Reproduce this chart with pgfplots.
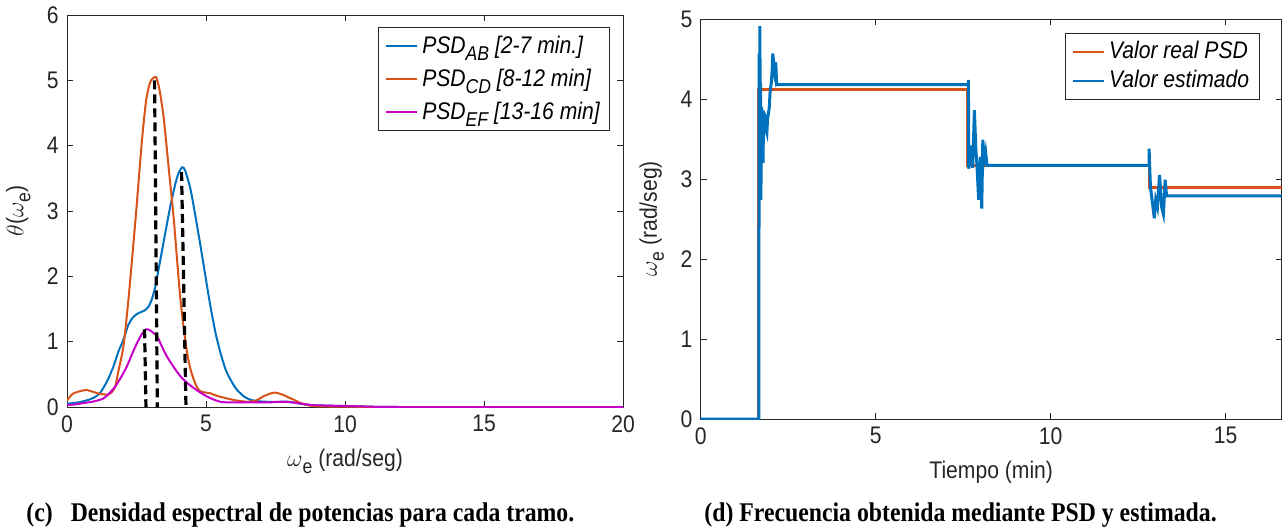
\documentclass[border=0pt]{standalone}
\usepackage{fontspec}
\setmainfont{Liberation Sans}[FakeStretch=0.88]
\newfontfamily\capfont{Liberation Serif}[FakeStretch=0.88]
\usepackage{pgfplots}
\pgfplotsset{compat=1.18}
\definecolor{mblue}{rgb}{0,0.447,0.741}
\definecolor{morange}{rgb}{0.85,0.325,0.098}
\definecolor{mmag}{rgb}{0.78,0,0.78}
\definecolor{axgray}{rgb}{0.15,0.15,0.15}
\newcommand{\sub}[1]{\raisebox{-0.55ex}{\fontsize{10}{10}\selectfont #1}}
\pgfplotsset{
  mystyle/.style={
    scale only axis,
    anchor=south west,
    axis line style={axgray, line width=0.5pt},
    every tick/.style={axgray, line width=0.5pt},
    major tick length=3pt,
    tick label style={font=\fontsize{12}{14}\selectfont, text=axgray},
    /pgf/number format/assume math mode=true,
    label style={font=\fontsize{12}{14}\selectfont, text=axgray},
    legend cell align=left,
    legend image code/.code={\draw[#1, line width=1.2pt] (0pt,0pt) -- (15.5pt,0pt);},
  }
}
\begin{document}
\fontsize{12}{14}\selectfont
\begin{tikzpicture}
\useasboundingbox (0,0) rectangle (642pt,-265pt);
% ---------------- left axis ----------------
\begin{axis}[mystyle,
  at={(33.5pt,-203.5pt)},
  width=278pt, height=196pt,
  xmin=0, xmax=20, ymin=0, ymax=6,
  xtick={0,5,10,15,20}, ytick={0,1,2,3,4,5,6},
  xlabel={$\omega$\sub{e} (rad/seg)},
  ylabel={$\theta$($\omega$\sub{e})},
  legend style={at={(rel axis cs:0.977,0.969)}, anchor=north east,
    draw=axgray, line width=0.5pt, font=\itshape\fontsize{12}{13}\selectfont,
    inner xsep=3pt, inner ysep=2pt, row sep=2pt},
]
\addplot[mblue, line width=1pt, smooth, tension=0.4] coordinates {
(0,0.05) (0.4,0.07) (0.7,0.10) (1.0,0.15) (1.2,0.22) (1.45,0.40) (1.67,0.62)
(1.85,0.85) (2.03,1.03) (2.2,1.25) (2.35,1.36) (2.5,1.42) (2.64,1.45) (2.8,1.48)
(2.94,1.54) (3.06,1.66) (3.18,1.85) (3.36,2.26) (3.55,2.70) (3.72,3.08) (3.9,3.42)
(4.02,3.59) (4.15,3.67) (4.25,3.62) (4.44,3.34) (4.62,2.92) (4.8,2.47) (5.0,1.95)
(5.16,1.54) (5.35,1.12) (5.52,0.83) (5.7,0.58) (5.88,0.42) (6.1,0.27) (6.37,0.16)
(6.6,0.11) (6.85,0.09) (7.2,0.08) (7.6,0.08) (8.0,0.08) (8.4,0.05) (8.8,0.03)
(9.5,0.02) (10.5,0.01) (12,0) (20,0)};
\addlegendentry{PSD\sub{AB} [2-7 min.]}
\addplot[morange, line width=1pt, smooth, tension=0.4] coordinates {
(0,0.10) (0.2,0.20) (0.45,0.24) (0.71,0.26) (0.95,0.23) (1.2,0.20) (1.45,0.19)
(1.6,0.22) (1.73,0.31) (1.85,0.55) (2.03,0.93) (2.2,1.60) (2.34,2.26) (2.5,3.05)
(2.7,4.10) (2.85,4.70) (3.0,4.98) (3.2,5.05) (3.33,4.85) (3.48,4.42) (3.66,3.65)
(3.84,2.88) (3.96,2.25) (4.08,1.65) (4.2,1.20) (4.32,0.83) (4.44,0.58) (4.56,0.42)
(4.68,0.30) (4.8,0.24) (5.0,0.22) (5.16,0.21) (5.4,0.17) (5.77,0.13) (6.1,0.10)
(6.49,0.08) (6.8,0.10) (7.1,0.17) (7.45,0.22) (7.75,0.19) (8.0,0.14) (8.17,0.11)
(8.4,0.06) (8.65,0.03) (9.0,0.01) (10.5,0.005) (11,0) (20,0)};
\addlegendentry{PSD\sub{CD} [8-12 min]}
\addplot[mmag, line width=1pt, smooth, tension=0.4] coordinates {
(0,0.03) (0.3,0.04) (0.59,0.06) (0.9,0.08) (1.1,0.10) (1.31,0.13) (1.5,0.20)
(1.73,0.31) (1.95,0.46) (2.15,0.62) (2.35,0.82) (2.52,0.98) (2.7,1.12) (2.85,1.19)
(3.0,1.17) (3.24,1.08) (3.42,0.92) (3.6,0.77) (3.84,0.61) (4.08,0.47) (4.32,0.37)
(4.56,0.29) (4.8,0.22) (5.04,0.16) (5.3,0.11) (5.52,0.08) (5.8,0.07) (6.5,0.07)
(7.2,0.07) (7.8,0.08) (8.3,0.06) (8.8,0.03) (9.5,0.02) (10.5,0.01) (12,0) (20,0)};
\addlegendentry{PSD\sub{EF} [13-16 min]}
\addplot[black, line width=1.6pt, dash pattern=on 4.5pt off 2.5pt, forget plot] coordinates {(2.79,1.19) (2.84,0)};
\addplot[black, line width=1.6pt, dash pattern=on 4.5pt off 2.5pt, forget plot] coordinates {(3.15,5.0) (3.25,0)};
\addplot[black, line width=1.6pt, dash pattern=on 4.5pt off 2.5pt, forget plot] coordinates {(4.12,3.6) (4.28,0)};
\end{axis}
% ---------------- right axis ----------------
\begin{axis}[mystyle,
  at={(350.35pt,-209.5pt)},
  width=290.5pt, height=200pt,
  xmin=0, xmax=16.6, ymin=0, ymax=5,
  xtick={0,5,10,15}, ytick={0,1,2,3,4,5},
  xlabel={Tiempo (min)},
  ylabel={$\omega$\sub{e} (rad/seg)},
  legend style={at={(rel axis cs:0.962,0.965)}, anchor=north east,
    draw=axgray, line width=0.5pt, font=\itshape\fontsize{12}{13}\selectfont,
    inner xsep=3pt, inner ysep=2pt, row sep=0pt},
]
\addplot[morange, line width=1.5pt] coordinates {
(0,0) (1.64,0) (1.64,4.12) (7.63,4.12) (7.63,3.17) (12.82,3.17) (12.82,2.90) (16.6,2.90)};
\addlegendentry{Valor real PSD}
\addplot[mblue, line width=1.5pt] coordinates {
(0,0) (1.66,0) (1.66,1.84) (1.67,2.86) (1.672,4.57) (1.68,3.4) (1.69,4.91) (1.70,3.9) (1.71,4.20)
(1.72,2.74) (1.735,3.9) (1.75,3.53) (1.765,3.25) (1.78,3.20) (1.795,3.7) (1.81,3.65) (1.83,3.8) (1.85,3.78)
(1.87,3.6) (1.89,3.57) (1.91,3.75) (1.93,3.80) (1.96,3.9) (1.98,4.07) (2.0,4.15) (2.02,4.21) (2.04,4.35)
(2.06,4.57) (2.08,4.48) (2.09,4.45) (2.11,4.30) (2.12,4.28) (2.14,4.46) (2.15,4.40) (2.17,4.18)
(7.65,4.18) (7.65,4.24) (7.655,3.13) (7.70,3.23) (7.74,3.42) (7.77,3.14) (7.82,3.86)
(7.86,3.38) (7.90,3.12) (7.94,2.74) (7.99,3.28) (8.03,2.63) (8.06,3.49) (8.10,3.24)
(8.14,3.34) (8.18,3.17) (12.81,3.17) (12.81,3.38) (12.85,2.90) (12.91,2.69) (12.96,2.51)
(13.0,2.74) (13.05,2.65) (13.11,3.05) (13.17,2.65) (13.22,2.56) (13.27,2.99) (13.31,2.79) (16.6,2.79)};
\addlegendentry{Valor estimado}
\end{axis}
% ---------------- captions ----------------
\node[anchor=base west, inner sep=0pt, font=\capfont\bfseries\fontsize{13.5}{15}\selectfont] at (13pt,-260.5pt)
  {(c)\hspace{9pt}Densidad espectral de potencias para cada tramo.};
\node[anchor=base west, inner sep=0pt, font=\capfont\bfseries\fontsize{13.5}{15}\selectfont] at (352pt,-260.5pt)
  {(d) Frecuencia obtenida mediante PSD y estimada.};
\end{tikzpicture}
\end{document}
